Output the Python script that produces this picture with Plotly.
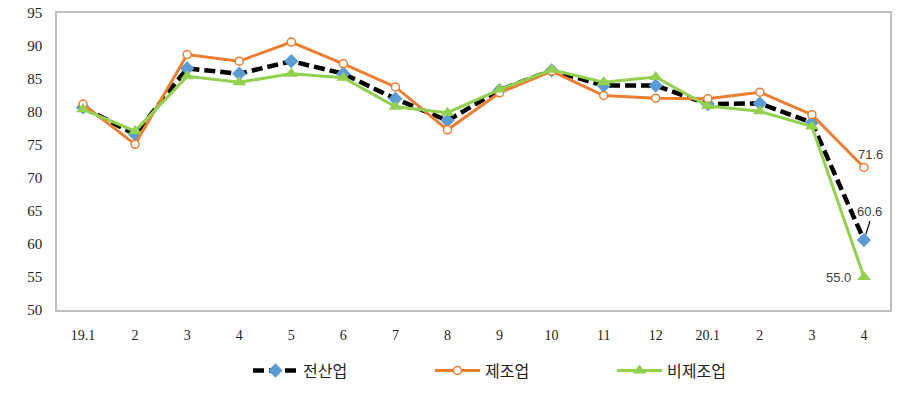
import plotly.graph_objects as go

categories = ["19.1", "2", "3", "4", "5", "6", "7", "8", "9", "10", "11", "12", "20.1", "2 ", "3 ", "4 "]
tick_labels = ["19.1", "2", "3", "4", "5", "6", "7", "8", "9", "10", "11", "12", "20.1", "2", "3", "4"]
all_industry = [80.7, 76.6, 86.6, 85.8, 87.7, 85.8, 82.0, 78.7, 83.3, 86.3, 84.0, 84.0, 81.2, 81.3, 78.4, 60.6]
manufacturing = [81.2, 75.1, 88.7, 87.7, 90.6, 87.3, 83.8, 77.3, 82.9, 86.2, 82.5, 82.1, 82.0, 83.0, 79.6, 71.6]
non_manufacturing = [80.4, 77.1, 85.4, 84.5, 85.8, 85.2, 80.8, 79.9, 83.4, 86.4, 84.5, 85.3, 80.9, 80.1, 77.8, 55.0]
series_names = ["전산업", "제조업", "비제조업"]

idx = list(range(len(categories)))

fig = go.Figure()
fig.add_trace(go.Scatter(
    x=idx, y=all_industry, name=series_names[0], mode="lines+markers",
    line=dict(color="black", width=4.5, dash="11px,5px"),
    marker=dict(symbol="diamond", size=11, color="#5b9bd5"),
))
fig.add_trace(go.Scatter(
    x=idx, y=manufacturing, name=series_names[1], mode="lines+markers",
    line=dict(color="#ed7d31", width=3),
    marker=dict(symbol="circle", size=8, color="white", line=dict(color="#ed7d31", width=1.5)),
))
fig.add_trace(go.Scatter(
    x=idx, y=non_manufacturing, name=series_names[2], mode="lines+markers",
    line=dict(color="#92d050", width=3),
    marker=dict(symbol="triangle-up", size=12, color="#92d050"),
))

last = len(categories) - 1
label_font = dict(family="Liberation Sans, Arial", size=13, color="#404040")
fig.add_annotation(x=last, y=manufacturing[last], text=f"{manufacturing[last]:.1f}",
                   showarrow=False, xshift=7, yshift=13, font=label_font)
fig.add_annotation(x=last, y=all_industry[last], text=f"{all_industry[last]:.1f}",
                   showarrow=True, arrowhead=0, arrowwidth=1.2, arrowcolor="black",
                   ax=6, ay=-19, standoff=6, font=label_font, yanchor="bottom")
fig.add_annotation(x=last, y=non_manufacturing[last], text=f"{non_manufacturing[last]:.1f}",
                   showarrow=False, xshift=-25, yshift=0, font=label_font)

fig.update_layout(
    width=916, height=398,
    margin=dict(l=57, r=26, t=13, b=87),
    paper_bgcolor="white", plot_bgcolor="white",
    showlegend=True,
    legend=dict(orientation="h", x=0.557, xanchor="center", y=-0.20, yanchor="middle",
                font=dict(family="Noto Sans CJK KR", size=16, color="#222222"),
                entrywidth=122, itemwidth=45, traceorder="normal"),
    xaxis=dict(
        range=[-0.5, len(categories) - 0.5], automargin=False,
        tickmode="array", tickvals=idx, ticktext=tick_labels,
        showline=True, linecolor="#bfbfbf", linewidth=1.5, mirror=True,
        showgrid=False, zeroline=False, ticks="", ticklabelstandoff=11,
        tickfont=dict(family="Liberation Serif, DejaVu Serif", size=14, color="#222222"),
    ),
    yaxis=dict(
        range=[50, 95], dtick=5, tick0=50, automargin=False,
        showline=True, linecolor="#bfbfbf", linewidth=1.5, mirror=True,
        showgrid=False, zeroline=False, ticks="", ticklabelstandoff=10,
        tickfont=dict(family="Liberation Serif, DejaVu Serif", size=15, color="#222222"),
    ),
)

fig.write_html("out.html",
               config={"displayModeBar": False},
               post_script="document.body.style.margin='0';document.body.style.overflow='hidden';")
